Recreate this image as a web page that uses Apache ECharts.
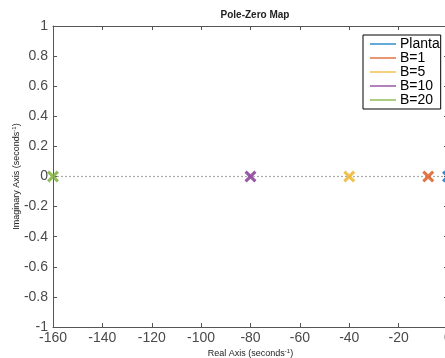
<!DOCTYPE html>
<html>
<head>
<meta charset="utf-8">
<script src="https://cdn.jsdelivr.net/npm/echarts@6/dist/echarts.min.js"></script>
<style>
  html, body { margin: 0; padding: 0; background: #fff; }
  #chart { width: 445px; height: 358px; }
</style>
</head>
<body>
<div id="chart"></div>
<script>
// pole positions (real part, imaginary part)
const seriesNames = ['Planta', 'B=1', 'B=5', 'B=10', 'B=20']
const poleReal = [0, -8, -40, -80, -160]
const poleImag = [0, 0, 0, 0, 0]
const seriesColors = ['#0072BD', '#D95319', '#EDB120', '#7E2F8E', '#77AC30']
const zeroLineX = [-160, 0]
const xTicks = [-160, -140, -120, -100, -80, -60, -40, -20, 0]
const yTicks = [-1, -0.8, -0.6, -0.4, -0.2, 0, 0.2, 0.4, 0.6, 0.8, 1]

const font = 'Liberation Sans, Arial, Helvetica, sans-serif'
const crossPath = 'path://M0,2.2 L2.2,0 L6,3.8 L9.8,0 L12,2.2 L8.2,6 L12,9.8 L9.8,12 L6,8.2 L2.2,12 L0,9.8 L3.8,6 Z'

const chart = echarts.init(document.getElementById('chart'), null, { renderer: 'canvas' })

const axisCommon = {
  axisLine: { show: true, onZero: false, lineStyle: { color: '#555', width: 1 } },
  axisTick: { show: true, inside: true, length: 4, lineStyle: { color: '#555' } },
  splitLine: { show: false },
}

const poleSeries = seriesNames.map((name, i) => ({
  name,
  type: 'scatter',
  xAxisIndex: 0,
  yAxisIndex: 0,
  symbol: crossPath,
  symbolSize: 12,
  itemStyle: { color: seriesColors[i] },
  data: [[poleReal[i], poleImag[i]]],
  z: 5,
}))

const option = {
  animation: false,
  title: {
    text: 'Pole-Zero Map',
    left: 250,
    top: 5,
    textAlign: 'center',
    textStyle: { fontFamily: font, fontSize: 10, fontWeight: 'bold', color: '#222' },
  },
  grid: { left: 53, top: 26, width: 395, height: 301, outerBoundsMode: 'none', containLabel: false },
  legend: {
    orient: 'vertical',
    left: 363,
    top: 35,
    padding: [2, 1, 2, 7],
    itemGap: 0,
    itemWidth: 26,
    itemHeight: 1.5,
    backgroundColor: '#fff',
    borderColor: '#000',
    borderWidth: 1,
    borderRadius: 0,
    textStyle: { fontFamily: font, fontSize: 14, lineHeight: 12.3, color: '#000', padding: [0, 0, 0, -1] },
    data: seriesNames.map((n) => ({ name: n, icon: 'rect' })),
  },
  xAxis: [
    {
      type: 'value',
      position: 'bottom',
      min: -160,
      max: 0,
      interval: 20,
      ...axisCommon,
      axisLabel: {
        margin: 4,
        fontFamily: font,
        fontSize: 14,
        color: '#4a4a4a',
        formatter: (v) => (xTicks.includes(v) ? String(v) : ''),
      },
      name: '{n|Real Axis (seconds}{s|-1}{n|)}',
      nameLocation: 'middle',
      nameGap: 21,
      nameMoveOverlap: false,
      nameTextStyle: {
        rich: {
          n: { fontFamily: font, fontSize: 9, color: '#222' },
          s: { fontFamily: font, fontSize: 6, color: '#222', verticalAlign: 'top', padding: [0, 0, 5, 0] },
        },
      },
    },
    {
      type: 'value',
      position: 'top',
      min: -160,
      max: 0,
      interval: 20,
      ...axisCommon,
      axisLabel: { show: false },
    },
  ],
  yAxis: [
    {
      type: 'value',
      position: 'left',
      min: -1,
      max: 1,
      interval: 0.2,
      ...axisCommon,
      axisLabel: {
        margin: 5,
        fontFamily: font,
        fontSize: 14,
        color: '#4a4a4a',
        formatter: (v) => {
          const r = Math.round(v * 10) / 10
          return yTicks.includes(r) ? String(r) : ''
        },
      },
      name: '{n|Imaginary Axis (seconds}{s|-1}{n|)}',
      nameLocation: 'middle',
      nameGap: 31,
      nameMoveOverlap: false,
      nameRotate: 90,
      nameTextStyle: {
        rich: {
          n: { fontFamily: font, fontSize: 9, color: '#222' },
          s: { fontFamily: font, fontSize: 6, color: '#222', verticalAlign: 'top', padding: [0, 0, 5, 0] },
        },
      },
    },
    {
      type: 'value',
      position: 'right',
      min: -1,
      max: 1,
      interval: 0.2,
      ...axisCommon,
      axisLabel: { show: false },
    },
  ],
  series: [
    {
      name: 'zero line',
      type: 'line',
      data: zeroLineX.map((x) => [x, 0]),
      symbol: 'none',
      silent: true,
      lineStyle: { color: '#aaa', width: 1.2, type: [2, 2] },
      z: 1,
    },
    ...poleSeries,
  ],
}

chart.setOption(option)
</script>
</body>
</html>
